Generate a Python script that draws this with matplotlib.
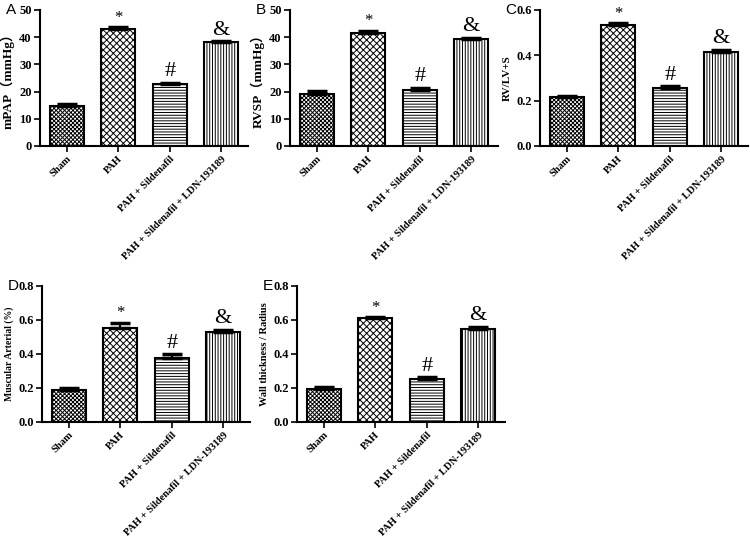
import numpy as np
import matplotlib
matplotlib.use('Agg')
import matplotlib.pyplot as plt

plt.rcParams['hatch.linewidth'] = 0.7

# group names and values
groups = ['Sham', 'PAH', 'PAH + Sildenafil', 'PAH + Sildenafil + LDN-193189']
marks = ['', '*', '#', '&']

mpap = [14.8, 43.0, 22.7, 38.2]
mpap_err = [0.8, 0.8, 0.6, 0.4]
rvsp = [19.2, 41.4, 20.6, 39.3]
rvsp_err = [1.0, 1.0, 0.8, 0.5]
rv_ratio = [0.217, 0.532, 0.255, 0.415]
rv_ratio_err = [0.005, 0.010, 0.010, 0.010]
muscular = [0.19, 0.555, 0.375, 0.532]
muscular_err = [0.010, 0.030, 0.025, 0.010]
wall = [0.197, 0.610, 0.253, 0.548]
wall_err = [0.010, 0.008, 0.012, 0.012]

hatches = ['xxxxxxxx', 'xxxxx', '------', '||||||']
serif = ['Liberation Serif', 'Noto Sans CJK SC']

fig = plt.figure(figsize=(7.5, 5.5), dpi=100)

# (letter, values, errors, ylabel, label size, ymax, step, fmt, axes rect)
panels = [
    ('A', mpap, mpap_err, 'mPAP（mmHg）', 9.5, 50, 10, '{:.0f}', [40, 10, 208, 136]),
    ('B', rvsp, rvsp_err, 'RVSP（mmHg）', 9.5, 50, 10, '{:.0f}', [290, 10, 208, 136]),
    ('C', rv_ratio, rv_ratio_err, 'RV/LV+S', 8, 0.6, 0.2, '{:.1f}', [540, 10, 208, 136]),
    ('D', muscular, muscular_err, 'Muscular Arterial (%)', 7, 0.8, 0.2, '{:.1f}', [42, 286, 208, 136]),
    ('E', wall, wall_err, 'Wall thickness / Radius', 7.5, 0.8, 0.2, '{:.1f}', [297, 286, 208, 136]),
]

W, H = 750, 550
x = np.arange(len(groups))

for letter, vals, errs, ylab, lsize, ymax, step, fmt, (px, py, pw, ph) in panels:
    ax = fig.add_axes([px / W, 1 - (py + ph) / H, pw / W, ph / H])
    for i in range(len(groups)):
        ax.bar(x[i], vals[i], width=0.66, color='white', edgecolor='black',
               linewidth=1.5, hatch=hatches[i], zorder=2)
        ax.errorbar(x[i], vals[i], yerr=[[0], [errs[i]]], fmt='none',
                    ecolor='black', elinewidth=1.5, capsize=7, capthick=2.5, zorder=3)
        if marks[i]:
            size = 12 if marks[i] == '*' else 16
            ax.text(x[i], vals[i] + errs[i] + ymax * 0.01, marks[i], ha='center',
                    va='bottom', fontsize=size, family=serif)
    ax.set_xlim(-0.52, 3.52)
    ax.set_ylim(0, ymax)
    ticks = np.arange(0, ymax + step / 2, step)
    ax.set_yticks(ticks)
    ax.set_yticklabels([fmt.format(t) for t in ticks], fontsize=9,
                       fontweight='bold', family=serif)
    ax.set_xticks(x)
    ax.set_xticklabels(groups, rotation=45, ha='right', rotation_mode='anchor',
                       fontsize=7.5, fontweight='bold', family=serif)
    ax.set_ylabel(ylab, fontsize=lsize, fontweight='bold', family=serif, labelpad=3)
    ax.spines['top'].set_visible(False)
    ax.spines['right'].set_visible(False)
    ax.spines['left'].set_linewidth(1.5)
    ax.spines['bottom'].set_linewidth(1.5)
    ax.tick_params(axis='both', direction='out', length=4, width=1.2, pad=2)
    ax.text(-0.14, 1.0, letter, transform=ax.transAxes, fontsize=11,
            family='Liberation Sans', ha='center', va='center')

fig.savefig('out.png', dpi=100)
